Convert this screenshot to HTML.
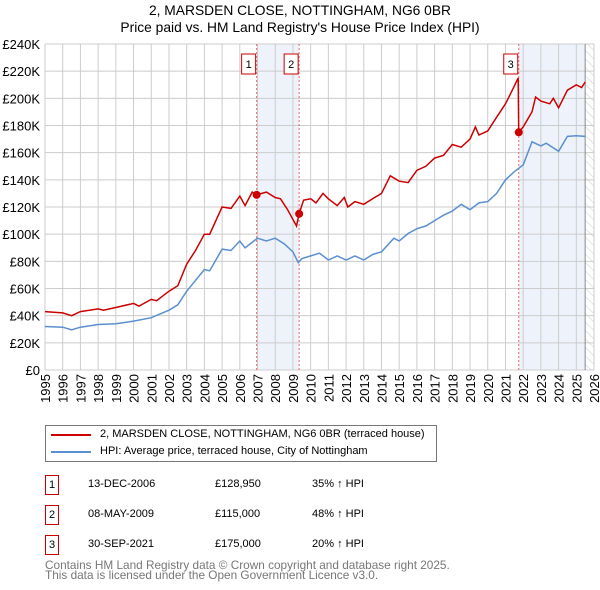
<!DOCTYPE html>
<html><head><meta charset="utf-8"><style>
body{margin:0;background:#fff;font-family:"Liberation Sans","DejaVu Sans",sans-serif;}
#root{position:relative;width:600px;height:590px;overflow:hidden;}
.t{position:absolute;font-size:11px;color:#000;white-space:nowrap;}
</style></head><body><div id="root">
<svg id="chart" width="600" height="415" style="position:absolute;left:0;top:0">
<defs><pattern id="hatch" width="6" height="6" patternUnits="userSpaceOnUse" patternTransform="rotate(-45)"><line x1="0" y1="0" x2="0" y2="6" stroke="#ccc" stroke-width="1"/></pattern></defs>
<text x="300" y="15" text-anchor="middle" font-size="13.8">2, MARSDEN CLOSE, NOTTINGHAM, NG6 0BR</text>
<text x="300" y="32" text-anchor="middle" font-size="13.8">Price paid vs. HM Land Registry's House Price Index (HPI)</text>
<g id="bg"></g><g id="grid"></g><g id="lines"></g><g id="marks"></g><g id="axes"></g>
</svg>
<div style="position:absolute;left:45px;top:425px;width:390px;height:35px;border:1px solid #777;">
<div style="position:absolute;left:5px;top:8px;width:40px;height:2px;background:#cc0000"></div>
<div class="t" style="left:54px;top:2px">2, MARSDEN CLOSE, NOTTINGHAM, NG6 0BR (terraced house)</div>
<div style="position:absolute;left:5px;top:25px;width:40px;height:2px;background:#5b8fd0"></div>
<div class="t" style="left:54px;top:19px">HPI: Average price, terraced house, City of Nottingham</div>
</div>
<div id="rows"></div>
<div class="t" style="left:45px;top:560px;color:#777;font-size:11.8px;line-height:10px">Contains HM Land Registry data © Crown copyright and database right 2025.<br>This data is licensed under the Open Government Licence v3.0.</div>
</div>
<script>
const hpiYears=[1995,1996,1996.5,1997,1998,1999,2000,2001,2002,2002.5,2003,2004,2004.3,2005,2005.5,2006,2006.3,2007,2007.5,2008,2008.5,2009,2009.3,2009.5,2010,2010.5,2011,2011.5,2012,2012.5,2013,2013.5,2014,2014.7,2015,2015.5,2016,2016.5,2017,2017.5,2018,2018.5,2019,2019.5,2020,2020.5,2021,2021.5,2022,2022.5,2023,2023.3,2024,2024.5,2025,2025.5];
const hpiValues=[32,31.5,29.5,31.5,33.5,34,36,38.5,44,48,58,74,73,89,88,95,90,97,95,97,93,87,79,82,84,86,81,84,81,84,81,85,87,97,95,100.5,104,106,110,114,117,122,118,123,124,130,140,146,151,168,165,167,161,172,172.5,172];
const priceYears=[1995,1996,1996.5,1997,1998,1998.3,1999,2000,2000.3,2001,2001.3,2002,2002.5,2003,2003.5,2004,2004.3,2005,2005.5,2006,2006.3,2006.7,2006.95,2007.5,2008,2008.3,2008.7,2009.2,2009.35,2009.6,2010,2010.3,2010.7,2011,2011.5,2011.9,2012.1,2012.5,2013,2013.5,2014,2014.5,2015,2015.5,2016,2016.5,2017,2017.5,2018,2018.5,2019,2019.3,2019.5,2020,2020.5,2021,2021.5,2021.72,2021.75,2022,2022.5,2022.7,2023,2023.5,2023.7,2024,2024.5,2025,2025.3,2025.5];
const priceValues=[43,42,40,43,45,44,46,49,47,52,51,58,62,78,88,100,100,120,119,128,121,131,129,131,127,126,118,106,115,125,126,123,130,126,121,127,120,124,122,126,130,143,139,138,147,150,156,158,166,164,170,179,173,176,186,196,209,215,175,179,190,201,198,196,200,193,206,210,208,212];
const saleYears=[2006.95,2009.35,2021.75];
const saleValues=[128950,115000,175000];
const saleLabels=["1","2","3"];
const saleDates=["13-DEC-2006","08-MAY-2009","30-SEP-2021"];
const salePrices=["£128,950","£115,000","£175,000"];
const saleHpi=["35% ↑ HPI","48% ↑ HPI","20% ↑ HPI"];
const yTicks=[0,20,40,60,80,100,120,140,160,180,200,220,240];
const xTicks=[1995,1996,1997,1998,1999,2000,2001,2002,2003,2004,2005,2006,2007,2008,2009,2010,2011,2012,2013,2014,2015,2016,2017,2018,2019,2020,2021,2022,2023,2024,2025,2026];
const X=y=>45+(y-1995)*17.71, Y=v=>370-v*326/240;
const NS="http://www.w3.org/2000/svg";
function mk(p,tag,a){const e=document.createElementNS(NS,tag);for(const k in a)e.setAttribute(k,a[k]);document.getElementById(p).appendChild(e);return e;}
let e;
e=mk('bg','rect',{x:X(saleYears[0]),y:Y(240),width:X(saleYears[1])-X(saleYears[0]),height:Y(0)-Y(240),fill:'#eef3fb'});

e=mk('bg','rect',{x:X(saleYears[2]),y:Y(240),width:X(2025.5)-X(saleYears[2]),height:Y(0)-Y(240),fill:'#eef3fb'});

e=mk('bg','rect',{x:X(2025.5),y:Y(240),width:X(2026)-X(2025.5),height:Y(0)-Y(240),fill:'url(#hatch)'});

yTicks.forEach(v=>{e=mk('grid','line',{x1:45,x2:X(2026),y1:Y(v),y2:Y(v),stroke:'#ccc'});

e=mk('axes','text',{x:40,y:Y(v)+5,'text-anchor':'end','font-size':13});e.textContent=v?'£'+v+'K':'£0';
});
xTicks.forEach(t=>{e=mk('grid','line',{x1:X(t),x2:X(t),y1:Y(240),y2:Y(0),stroke:'#ccc'});

e=mk('axes','text',{x:0,y:0,transform:`translate(${X(t)+5},374) rotate(-90)`,'text-anchor':'end','font-size':13});e.textContent=t;
});
e=mk('grid','line',{x1:X(2025.5),x2:X(2025.5),y1:Y(240),y2:Y(0),stroke:'#888'});

saleYears.forEach((s,i)=>{e=mk('grid','line',{x1:X(s),x2:X(s),y1:Y(240),y2:Y(0),stroke:'#e66','stroke-dasharray':'2,2'});
});
function path(xs,vs){return xs.map((x,i)=>(i?'L':'M')+X(x).toFixed(1)+','+Y(vs[i]).toFixed(1)).join('');}
e=mk('lines','path',{d:path(hpiYears,hpiValues),fill:'none',stroke:'#5b8fd0','stroke-width':1.5});

e=mk('lines','path',{d:path(priceYears,priceValues),fill:'none',stroke:'#cc0000','stroke-width':1.5});

saleYears.forEach((s,i)=>{e=mk('marks','circle',{cx:X(s),cy:Y(saleValues[i]/1000),r:4,fill:'#cc0000'});

e=mk('marks','rect',{x:X(s)-15,y:54,width:14,height:20,fill:'#fff',stroke:'#cc0000'});

e=mk('marks','text',{x:X(s)-8,y:68,'text-anchor':'middle','font-size':11});e.textContent=saleLabels[i];
});
const rows=document.getElementById('rows');
saleDates.forEach((d,i)=>{const top=475+i*30;
const r=document.createElement('div');r.style.cssText=`position:absolute;left:0;top:${top}px;width:600px;height:20px`;


r.innerHTML=`<div style="position:absolute;left:45px;top:0;width:12px;height:18px;border:1px solid #cc0000;font-size:11px;text-align:center;line-height:18px">${saleLabels[i]}</div><div class="t" style="left:88px;top:3px">${d}</div><div class="t" style="left:215px;top:3px">${salePrices[i]}</div><div class="t" style="left:312px;top:3px">${saleHpi[i]}</div>`;
rows.appendChild(r);});
</script></body></html>
